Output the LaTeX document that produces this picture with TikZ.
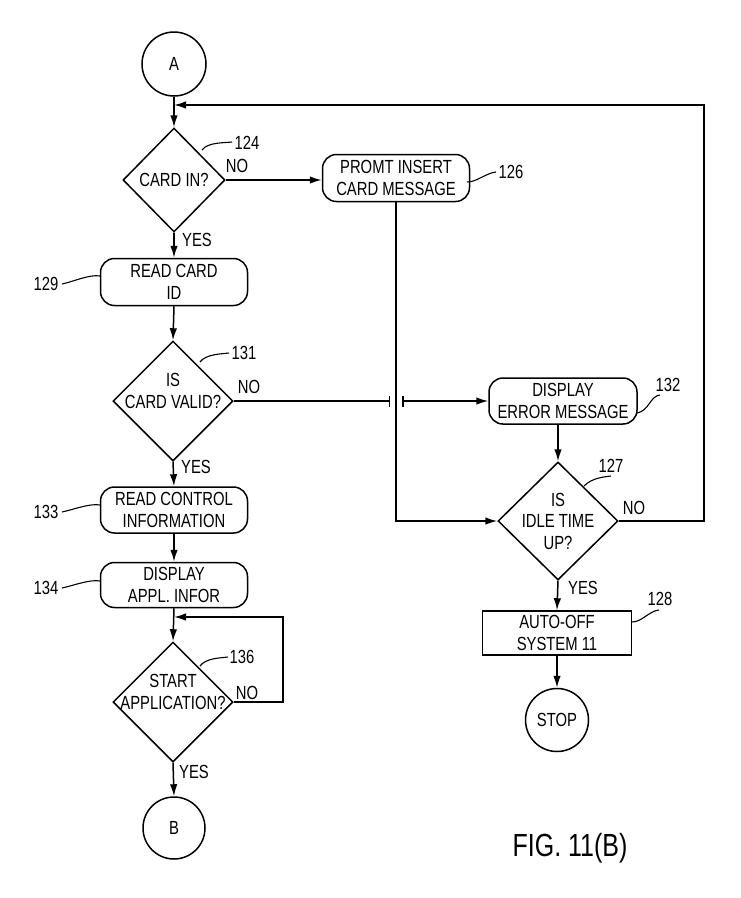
\documentclass[tikz,border=0pt]{standalone}
\usepackage{fontspec}
\setmainfont[FakeStretch=0.78]{Liberation Sans}
\usetikzlibrary{shapes.geometric,arrows.meta}
\begin{document}
\begin{tikzpicture}[x=1pt,y=-1pt,
  every node/.style={font=\fontsize{19}{21.5}\selectfont, align=center, inner sep=0pt},
  ln/.style={line width=1.5pt},
  arr/.style={ln,-{Latex[length=12pt,width=7.5pt]}},
  proc/.style={draw, ln, rounded corners=14pt, minimum width=147pt, minimum height=47pt},
  rbox/.style={draw, ln, minimum width=149pt, minimum height=44pt},
  dec/.style={draw, ln, diamond, minimum width=120pt, minimum height=120pt},
  term/.style={draw, ln, circle, minimum size=64pt},
  lead/.style={line width=1.1pt}
]
\useasboundingbox (0,0) rectangle (740,898);

% left column
\node[term] (A) at (174,64) {A};
\node[dec, minimum width=102pt, minimum height=104pt] (d124) at (174,180) {};
\node (t124) at (d124) {CARD IN?};
\node[proc] (p129) at (174,282) {READ CARD\\ID};
\node[dec] (d131) at (173,401) {};
\node (t131) at (173,391) {IS\\CARD VALID?};
\node[proc, minimum height=46pt] (p133) at (174,510) {READ CONTROL\\INFORMATION};
\node[proc, minimum height=45pt] (p134) at (174,585) {DISPLAY\\APPL. INFOR};
\node[dec] (d136) at (173,702) {};
\node (t136) at (173,692) {START\\APPLICATION?};
\node[term, minimum size=62pt] (B) at (174,828) {B};

% right column
\node[proc] (p126) at (396,178) {PROMT INSERT\\CARD MESSAGE};
\node[proc, minimum width=148pt, minimum height=46pt] (p132) at (563,401) {DISPLAY\\ERROR MESSAGE};
\node[dec, minimum height=118pt] (d127) at (558,521) {};
\node (t127) at (d127) {IS\\IDLE TIME\\UP?};
\node[rbox] (r128) at (557,633) {AUTO-OFF\\SYSTEM 11};
\node[term, minimum size=63pt] (stop) at (557,720) {STOP};

% junction coordinates
\coordinate (j1) at (174,105);
\coordinate (j2) at (174,617);
\coordinate (c1) at (390,401);
\coordinate (c2) at (402,401);

% connectors
\draw[arr] (A) -- (d124.north);
\draw[arr] (d124.east) -- (d124.east -| p126.west);
\draw[arr] (d124.south) -- (p129.north);
\draw[arr] (p129.south) -- (d131.north);
\draw[ln,-{Bar[width=11pt]}] (d131.east) -- (c1);
\draw[ln,{Bar[width=11pt]}-{Latex[length=12pt,width=7.5pt]}] (c2) -- (p132.west);
\draw[arr] (d131.south) -- (p133.north);
\draw[arr] (p133.south) -- (p134.north);
\draw[arr] (p134.south) -- (d136.north);
\draw[arr] (d136.east) -- (283,702) -- (283,617) -- (j2);
\draw[arr] (d136.south) -- (B.north);
\draw[arr] (p126.south) -- (396,521) -- (d127.west);
\draw[arr] (d127.north |- p132.south) -- (d127.north);
\draw[arr] (d127.east) -- (704,521) -- (704,105) -- (j1);
\draw[arr] (d127.south) -- (r128.north);
\draw[arr] (r128.south) -- (stop.north);

% YES / NO labels
\node (n124) at (237,166) {NO};
\node (y124) at (197,240) {YES};
\node (n131) at (249,387) {NO};
\node (y131) at (196,467) {YES};
\node (n136) at (247,693) {NO};
\node (y136) at (194,772) {YES};
\node (n127) at (634,508) {NO};
\node (y127) at (583,588) {YES};

% reference numerals
\node (l124) at (247,143) {124};
\draw[lead] (202,150) .. controls +(6,-8) and +(-8,1) .. (232,142);
\node (l126) at (511,172) {126};
\draw[lead] (467,182) .. controls +(10,0) and +(-10,1) .. (496,172);
\node (l129) at (46,284) {129};
\draw[lead] (100,276) .. controls +(-10,-2) and +(10,-2) .. (62,284);
\node (l131) at (244,353) {131};
\draw[lead] (200,362) .. controls +(6,-8) and +(-8,1) .. (229,353);
\node (l132) at (668,385) {132};
\draw[lead] (637,413) .. controls +(12,-2) and +(-10,1) .. (660,395);
\node (l133) at (46,512) {133};
\draw[lead] (100,505) .. controls +(-10,-2) and +(10,-2) .. (62,512);
\node (l134) at (46,588) {134};
\draw[lead] (100,581) .. controls +(-10,-2) and +(10,-2) .. (62,588);
\node (l127) at (611,466) {127};
\draw[lead] (584,486) .. controls +(8,-8) and +(-8,1) .. (611,476);
\node (l136) at (242,657) {136};
\draw[lead] (200,666) .. controls +(6,-8) and +(-8,1) .. (228,657);
\node (l128) at (660,599) {128};
\draw[lead] (632,622) .. controls +(10,0) and +(-10,1) .. (659,610);

\node[font=\fontsize{32}{36}\selectfont] (fig) at (570,848) {FIG. 11(B)};
\end{tikzpicture}
\end{document}
